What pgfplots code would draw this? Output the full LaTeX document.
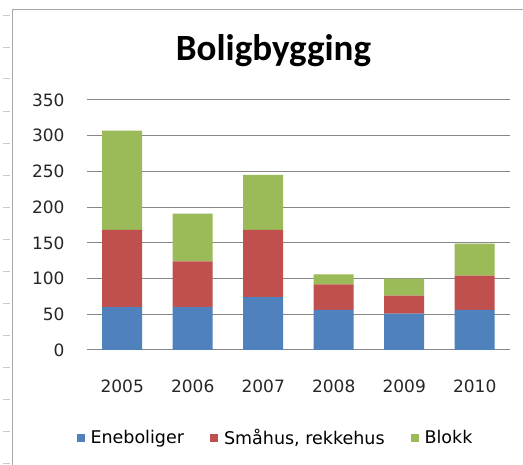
\documentclass[border=0pt]{standalone}
\usepackage{fontspec}
\setmainfont{DejaVu Sans}
\newfontfamily\titlefont{Carlito}
\usepackage{pgfplots}
\pgfplotsset{compat=1.18}
\definecolor{cblue}{HTML}{4F81BD}
\definecolor{cred}{HTML}{C0504D}
\definecolor{cgreen}{HTML}{9BBB59}
\definecolor{gridc}{HTML}{878787}
\begin{document}
\begin{tikzpicture}
\useasboundingbox (0pt,0pt) rectangle (523pt,465pt);
\fill[white] (0pt,0pt) rectangle (523pt,465pt);
% frame of chart
\draw[gray!70, line width=1pt] (12pt,0pt) -- (12pt,455pt) -- (523pt,455pt);
\foreach \yy in {15,47,78,111,143,175,207,239,271,303,335,367,399,431,463}{
  \draw[gray!40, line width=0.8pt] (3pt,465pt-\yy pt) -- (10pt,465pt-\yy pt);
}
\node[anchor=base, font=\titlefont\bfseries\fontsize{37}{40}\selectfont] at (273.5pt,404pt) {Boligbygging};
\begin{axis}[
  at={(87pt,115pt)}, anchor=south west,
  scale only axis, width=423pt, height=250pt,
  xmin=-0.5, xmax=5.5, ymin=0, ymax=350,
  ybar stacked, bar width=40pt,
  xtick={0,1,2,3,4,5},
  xticklabels={2005,2006,2007,2008,2009,2010},
  ytick={0,50,100,150,200,250,300,350},
  ymajorgrids, grid style={gridc, line width=1pt},
  axis line style={draw=none},
  major tick length=0pt,
  tick label style={font=\fontsize{17}{20}\selectfont, color=black!85},
  /pgf/number format/assume math mode=true,
  yticklabel style={xshift=-19pt},
  xticklabel style={yshift=-26pt},
  legend style={at={(0.4456,-0.352)}, anchor=center, draw=none, fill=none,
    legend columns=3, font=\fontsize{17.5}{20}\selectfont,
    /tikz/every odd column/.append style={column sep=4pt},
    /tikz/every even column/.append style={column sep=24pt},
    legend cell align=left},
  legend image code/.code={\fill[#1] (0pt,-4pt) rectangle (8pt,4pt);},
]
\addplot[fill=cblue, draw=none] coordinates {(0,60) (1,60) (2,74) (3,56) (4,51) (5,56)};
\addplot[fill=cred, draw=none] coordinates {(0,108) (1,64) (2,94) (3,36) (4,25) (5,48)};
\addplot[fill=cgreen, draw=none] coordinates {(0,139) (1,67) (2,77) (3,14) (4,24) (5,45)};
\legend{Eneboliger, {Småhus, rekkehus}, Blokk}
\end{axis}
\end{tikzpicture}
\end{document}
